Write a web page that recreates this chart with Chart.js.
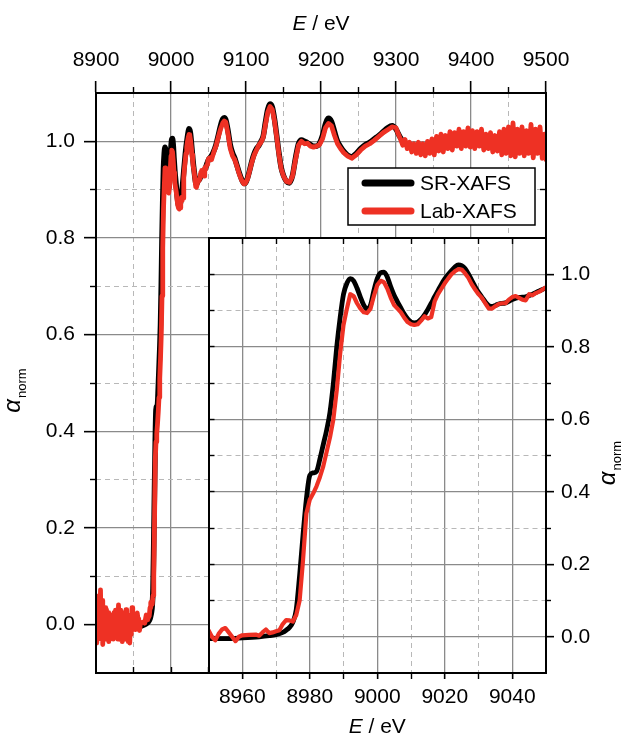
<!DOCTYPE html>
<html>
<head>
<meta charset="utf-8">
<title>SR-XAFS vs Lab-XAFS</title>
<script src="https://cdn.jsdelivr.net/npm/chart.js@4.4.1/dist/chart.umd.min.js"></script>
<style>
    html, body { margin: 0; padding: 0; background: #fff; }
    #wrap { position: relative; width: 630px; height: 737px; }
    #wrap canvas { position: absolute; left: 0; top: 0; }
</style>
</head>
<body>
<div id="wrap">
    <canvas id="mainChart" width="630" height="737"></canvas>
    <canvas id="insetChart" width="630" height="737"></canvas>
</div>
<script>
// ---- data ----
// SR-XAFS (black)
const srEnergy = [8940, 8945, 8950, 8955, 8960, 8965, 8968, 8970, 8972, 8973, 8974, 8975, 8976, 8977, 8978, 8979,
    8980, 8981, 8982, 8983, 8984, 8985, 8986, 8987, 8988, 8989, 8990, 8991, 8992, 8993, 8994, 8995, 8996, 8997, 8998, 8999,
    9000, 9001, 9002, 9003, 9004, 9005, 9006, 9007, 9008, 9009, 9010, 9011, 9012, 9013, 9014, 9015, 9016, 9017, 9018, 9019,
    9020, 9021, 9022, 9023, 9024, 9025, 9026, 9027, 9028, 9029, 9030, 9031, 9032, 9033, 9034, 9035, 9036, 9038,
    9040, 9042, 9044, 9046, 9048, 9050, 9053, 9056, 9060, 9063, 9066, 9069, 9071, 9073, 9076, 9079, 9082, 9085, 9088,
    9091, 9094, 9097, 9099, 9102, 9105, 9108, 9111, 9114, 9117, 9120, 9123, 9126, 9129, 9132, 9135, 9138, 9141, 9144,
    9147, 9150, 9154, 9158, 9162, 9166, 9170, 9174, 9178, 9182, 9186, 9190, 9194, 9198, 9202, 9206, 9210, 9214, 9218,
    9222, 9226, 9230, 9235, 9241, 9247, 9253, 9259, 9265, 9271, 9277, 9283, 9289, 9295, 9300, 9305, 9310, 9320, 9330,
    9340, 9350, 9360, 9370, 9380, 9390, 9400, 9410, 9420, 9430, 9440, 9450, 9460, 9470, 9480, 9490, 9500];
const srMu = [0.000, -0.003, -0.005, -0.005, -0.003, 0.000, 0.003, 0.006, 0.012, 0.018, 0.026, 0.040, 0.075, 0.170, 0.280, 0.380,
    0.445, 0.452, 0.456, 0.490, 0.530, 0.570, 0.620, 0.700, 0.800, 0.880, 0.945, 0.975, 0.988, 0.982, 0.962, 0.937, 0.915, 0.904, 0.915, 0.955,
    0.988, 1.004, 1.006, 0.992, 0.965, 0.942, 0.924, 0.907, 0.890, 0.877, 0.868, 0.866, 0.868, 0.876, 0.888, 0.903, 0.920, 0.938, 0.955, 0.972,
    0.987, 0.999, 1.010, 1.020, 1.026, 1.024, 1.016, 1.001, 0.983, 0.966, 0.950, 0.937, 0.924, 0.914, 0.911, 0.914, 0.918, 0.921,
    0.930, 0.936, 0.938, 0.945, 0.954, 0.962, 0.968, 0.976, 0.993, 1.012, 1.032, 1.046, 1.049, 1.045, 1.022, 0.993, 0.976, 0.965, 0.950,
    0.935, 0.922, 0.913, 0.913, 0.924, 0.941, 0.960, 0.975, 0.985, 0.991, 1.000, 1.011, 1.040, 1.066, 1.077, 1.071, 1.046, 1.011, 0.975,
    0.945, 0.929, 0.917, 0.914, 0.929, 0.965, 0.995, 1.003, 1.000, 0.997, 0.993, 0.990, 0.990, 0.996, 1.012, 1.036, 1.048, 1.041, 1.020,
    1.000, 0.989, 0.980, 0.972, 0.968, 0.975, 0.985, 0.993, 0.998, 1.005, 1.012, 1.020, 1.028, 1.032, 1.025, 1.010, 0.998, 0.990, 0.985,
    0.983, 0.985, 0.990, 0.995, 1.000, 1.005, 1.008, 1.005, 1.000, 0.998, 0.998, 1.000, 1.000, 1.000, 0.998, 0.995, 0.995];

// Lab-XAFS (red)
const labEnergy = [8900, 8901, 8902, 8903, 8904, 8905, 8906, 8907, 8908, 8909, 8910, 8911, 8912, 8913, 8914, 8915, 8916, 8917,
    8918, 8919, 8920, 8921, 8922, 8923, 8924, 8925, 8926, 8927, 8928, 8929, 8930, 8931, 8932, 8933, 8934, 8935, 8936, 8937,
    8938, 8939, 8940, 8941, 8942, 8943, 8944, 8945, 8946, 8947, 8948, 8949, 8950, 8951, 8952, 8953, 8954, 8955, 8956, 8957,
    8958, 8959, 8960, 8962, 8964, 8965, 8966, 8967, 8968, 8969, 8970, 8971, 8972, 8973, 8974, 8975, 8976, 8977, 8978, 8979,
    8980, 8981, 8982, 8983, 8984, 8985, 8986, 8987, 8988, 8989, 8990, 8991, 8992, 8993, 8994, 8995, 8996, 8997, 8998, 8999,
    9000, 9001, 9002, 9003, 9004, 9005, 9006, 9007, 9008, 9009, 9010, 9011, 9012, 9013, 9014, 9015, 9016, 9017, 9018, 9019,
    9020, 9021, 9022, 9023, 9024, 9025, 9026, 9027, 9028, 9029, 9030, 9031, 9032, 9033, 9034, 9035, 9036, 9037, 9038, 9039,
    9040, 9041, 9042, 9043, 9044, 9045, 9046, 9047, 9048, 9049, 9050, 9052, 9054, 9056, 9058, 9060, 9063, 9066, 9069, 9071,
    9073, 9076, 9079, 9082, 9085, 9088, 9091, 9094, 9097, 9099, 9102, 9105, 9108, 9111, 9114, 9117, 9120, 9123, 9126, 9129,
    9132, 9135, 9138, 9141, 9144, 9147, 9150, 9154, 9158, 9162, 9166, 9170, 9174, 9178, 9182, 9186, 9190, 9194, 9198, 9202,
    9206, 9210, 9214, 9218, 9222, 9226, 9230, 9235, 9241, 9247, 9253, 9259, 9265, 9271, 9277, 9283, 9289, 9295,
    9300, 9303, 9306, 9309, 9312, 9315, 9318, 9321, 9324, 9327, 9330, 9333, 9336, 9339, 9342, 9345, 9348, 9351, 9354, 9357,
    9360, 9363, 9366, 9369, 9372, 9375, 9378, 9381, 9384, 9387, 9390, 9393, 9396, 9399, 9402, 9405, 9408, 9411, 9414, 9417,
    9420, 9423, 9426, 9429, 9432, 9435, 9438, 9441, 9444, 9447, 9450, 9453, 9456, 9459, 9462, 9465, 9468, 9471, 9474, 9477,
    9480, 9483, 9486, 9489, 9492, 9495, 9498, 9500];
const labMu = [0.030, -0.038, 0.045, -0.020, 0.060, 0.000, 0.072, -0.030, 0.050, -0.041, 0.020, -0.010, 0.035, -0.030, 0.031, -0.015, 0.025, -0.035,
    0.010, -0.024, 0.020, -0.020, 0.015, -0.030, 0.025, -0.010, 0.030, -0.025, 0.020, -0.030, 0.041, -0.015, 0.030, -0.031, 0.010, -0.035, 0.020, -0.020,
    0.025, -0.030, 0.031, -0.020, 0.015, -0.035, 0.010, -0.038, 0.020, -0.020, 0.035, -0.010, 0.018, 0.000, -0.010, 0.008, 0.020, 0.024, 0.012, 0.000,
    -0.012, 0.000, 0.004, 0.005, 0.006, 0.003, 0.012, 0.020, 0.010, 0.012, 0.015, 0.018, 0.035, 0.046, 0.045, 0.042, 0.060, 0.100, 0.210, 0.340,
    0.378, 0.395, 0.415, 0.440, 0.470, 0.510, 0.550, 0.600, 0.680, 0.780, 0.860, 0.905, 0.945, 0.940, 0.920, 0.905, 0.895, 0.893, 0.905, 0.940,
    0.970, 0.982, 0.978, 0.960, 0.935, 0.915, 0.905, 0.895, 0.880, 0.868, 0.862, 0.860, 0.862, 0.872, 0.884, 0.878, 0.882, 0.925, 0.945, 0.960,
    0.975, 0.988, 1.000, 1.008, 1.014, 1.013, 1.003, 0.990, 0.972, 0.958, 0.945, 0.935, 0.920, 0.906, 0.905, 0.912, 0.918, 0.920, 0.920, 0.930,
    0.937, 0.940, 0.935, 0.930, 0.928, 0.945, 0.942, 0.948, 0.952, 0.958, 0.964, 0.966, 0.962, 0.972, 0.982, 0.990, 1.008, 1.025, 1.038, 1.042,
    1.040, 1.015, 0.985, 0.970, 0.962, 0.948, 0.932, 0.920, 0.912, 0.913, 0.922, 0.940, 0.958, 0.972, 0.982, 0.992, 0.998, 1.008, 1.035, 1.060,
    1.072, 1.066, 1.042, 1.008, 0.972, 0.943, 0.928, 0.917, 0.915, 0.928, 0.962, 0.992, 1.000, 0.995, 0.996, 0.990, 0.988, 0.990, 0.993, 1.005,
    1.028, 1.037, 1.032, 1.012, 0.995, 0.985, 0.977, 0.970, 0.965, 0.972, 0.982, 0.990, 0.995, 1.002, 1.010, 1.018, 1.024, 1.030,
    1.028, 1.015, 1.005, 0.992, 1.004, 0.985, 0.998, 0.978, 0.995, 0.975, 0.998, 0.972, 0.995, 0.970, 1.000, 0.975, 1.005, 0.972, 1.010, 0.980,
    1.015, 0.978, 1.012, 0.985, 1.020, 0.982, 1.018, 0.990, 1.025, 0.985, 1.020, 0.990, 1.028, 0.988, 1.022, 0.985, 1.020, 0.990, 1.025, 0.982,
    1.015, 0.985, 1.018, 0.978, 1.012, 0.980, 1.020, 0.972, 1.025, 0.975, 1.030, 0.970, 1.038, 0.968, 1.025, 0.975, 1.030, 0.970, 1.022, 0.975,
    1.035, 0.966, 1.025, 0.975, 1.030, 0.965, 1.015, 0.962];

// ---- axis ticks ----
const mainXTicks = [8900, 9000, 9100, 9200, 9300, 9400, 9500];
const mainXMinor = [8950, 9050, 9150, 9250, 9350, 9450];
const mainXMirror = [8950, 9000, 9050, 9100, 9150, 9200, 9250, 9300, 9350, 9400, 9450];
const yTicks = [0.0, 0.2, 0.4, 0.6, 0.8, 1.0];
const yMinor = [0.1, 0.3, 0.5, 0.7, 0.9];
const yMirror = [0.0, 0.1, 0.2, 0.3, 0.4, 0.5, 0.6, 0.7, 0.8, 0.9, 1.0];
const insetXTicks = [8960, 8980, 9000, 9020, 9040];
const insetXMinor = [8970, 8990, 9010, 9030];
const insetXMirror = [8960, 8970, 8980, 8990, 9000, 9010, 9020, 9030, 9040];

const FONT = "'Liberation Sans', Arial, sans-serif";
const GRID_MAJOR = '#8a8a8a';
const GRID_MINOR = '#b8b8b8';
const RED = '#ee3124';

function fixedTicks(values) {
    return function (scale) { scale.ticks = values.map(v => ({ value: v })); };
}
function fixedSize(size) {
    return function (scale) {
        if (scale.isHorizontal()) scale.height = size; else scale.width = size;
    };
}

// labelled axis with solid major grid
function majorAxis(axis, position, min, max, ticks, size, tickLength, padding, fmt) {
    return {
        type: 'linear', axis: axis, position: position, min: min, max: max, weight: 1,
        afterBuildTicks: fixedTicks(ticks),
        afterFit: fixedSize(size),
        ticks: { color: '#000', padding: padding, font: { family: FONT, size: 21 }, callback: fmt },
        grid: { color: GRID_MAJOR, lineWidth: 1.3, tickColor: '#000', tickWidth: 1.6, tickLength: tickLength, tickBorderDash: [] },
        border: { display: true, color: '#000', width: 2, z: 1 }
    };
}
// dashed minor grid, no labels
function minorAxis(axis, position, min, max, ticks, tickLength) {
    return {
        type: 'linear', axis: axis, position: position, min: min, max: max, weight: 0,
        afterBuildTicks: fixedTicks(ticks),
        afterFit: fixedSize(0),
        ticks: { display: false },
        grid: { color: GRID_MINOR, lineWidth: 1, borderDash: [5, 4], tickColor: '#000', tickWidth: 1.4, tickLength: tickLength, tickBorderDash: [] },
        border: { display: false, dash: [5, 4] }
    };
}
// frame side with inward ticks only
function mirrorAxis(axis, position, min, max, ticks) {
    return {
        type: 'linear', axis: axis, position: position, min: min, max: max,
        afterBuildTicks: fixedTicks(ticks),
        afterFit: fixedSize(0),
        ticks: { display: false },
        grid: { drawOnChartArea: false, tickColor: '#000', tickWidth: 1.4, tickLength: -6, tickBorderDash: [] },
        border: { display: true, color: '#000', width: 2, z: 1 }
    };
}

function toPoints(xs, ys) {
    return xs.map((x, i) => ({ x: x, y: ys[i] }));
}

function drawEnergyTitle(ctx, cx, baseline) {
    const italic = 'italic 21px ' + FONT;
    const plain = '21px ' + FONT;
    ctx.font = italic;
    const w1 = ctx.measureText('E').width;
    ctx.font = plain;
    const w2 = ctx.measureText(' / eV').width;
    const x = cx - (w1 + w2) / 2;
    ctx.textAlign = 'left';
    ctx.textBaseline = 'alphabetic';
    ctx.font = italic;
    ctx.fillText('E', x, baseline);
    ctx.font = plain;
    ctx.fillText(' / eV', x + w1, baseline);
}

function drawAlphaTitle(ctx, x, cy) {
    ctx.save();
    ctx.translate(x, cy);
    ctx.rotate(-Math.PI / 2);
    const big = 'italic 24px ' + FONT;
    const small = '13px ' + FONT;
    ctx.font = big;
    const w1 = ctx.measureText('α').width;
    ctx.font = small;
    const w2 = ctx.measureText('norm').width;
    const sx = -(w1 + w2) / 2;
    ctx.textAlign = 'left';
    ctx.textBaseline = 'alphabetic';
    ctx.font = big;
    ctx.fillText('α', sx, 0);
    ctx.font = small;
    ctx.fillText('norm', sx + w1 + 1, 6);
    ctx.restore();
}

// axis titles, position given in plugin options
const axisTitles = {
    id: 'axisTitles',
    afterDraw(chart, args, opts) {
        const ctx = chart.ctx;
        const area = chart.chartArea;
        ctx.save();
        ctx.fillStyle = '#000';
        drawEnergyTitle(ctx, (area.left + area.right) / 2, opts.energyBaseline);
        drawAlphaTitle(ctx, opts.alphaX, (area.top + area.bottom) / 2 + 8);
        ctx.restore();
    }
};

// boxed legend inside the upper right of the main plot
const legendBox = {
    id: 'legendBox',
    afterDraw(chart) {
        const ctx = chart.ctx;
        const area = chart.chartArea;
        const w = 187, h = 57;
        const x0 = area.right - 11 - w;
        const y0 = area.top + 75;
        ctx.save();
        ctx.fillStyle = '#fff';
        ctx.fillRect(x0, y0, w, h);
        ctx.lineWidth = 1.5;
        ctx.strokeStyle = '#000';
        ctx.strokeRect(x0, y0, w, h);
        chart.data.datasets.forEach((ds, i) => {
            const y = y0 + 15 + i * 28;
            ctx.strokeStyle = ds.borderColor;
            ctx.lineWidth = 7;
            ctx.lineCap = 'round';
            ctx.beginPath();
            ctx.moveTo(x0 + 17, y);
            ctx.lineTo(x0 + 63, y);
            ctx.stroke();
            ctx.fillStyle = '#000';
            ctx.font = '21px ' + FONT;
            ctx.textAlign = 'left';
            ctx.textBaseline = 'middle';
            ctx.fillText(ds.label, x0 + 72, y + 1);
        });
        ctx.restore();
    }
};

// white plot area for the inset
const whiteArea = {
    id: 'whiteArea',
    beforeDraw(chart) {
        const a = chart.chartArea;
        chart.ctx.save();
        chart.ctx.fillStyle = '#fff';
        chart.ctx.fillRect(a.left, a.top, a.right - a.left, a.bottom - a.top);
        chart.ctx.restore();
    }
};

function makeDatasets(srWidth, labWidth) {
    return [{
        label: 'SR-XAFS',
        data: toPoints(srEnergy, srMu),
        borderColor: '#000',
        borderWidth: srWidth,
        pointRadius: 0,
        cubicInterpolationMode: 'monotone',
        borderJoinStyle: 'round',
        borderCapStyle: 'round',
        clip: 0,
        order: 2
    }, {
        label: 'Lab-XAFS',
        data: toPoints(labEnergy, labMu),
        borderColor: RED,
        borderWidth: labWidth,
        pointRadius: 0,
        tension: 0,
        borderJoinStyle: 'round',
        borderCapStyle: 'round',
        clip: 0,
        order: 1
    }];
}

const fmtY = v => v.toFixed(1);
const fmtX = v => String(v);

const mainChart = new Chart(document.getElementById('mainChart'), {
    type: 'line',
    data: { datasets: makeDatasets(5.5, 4.8) },
    options: {
        responsive: false,
        animation: false,
        devicePixelRatio: 1,
        events: [],
        layout: { padding: { left: 0, top: 0, right: 84, bottom: 64 }, autoPadding: false },
        plugins: {
            legend: { display: false },
            tooltip: { enabled: false },
            axisTitles: { energyBaseline: 30, alphaX: 20 }
        },
        scales: {
            x: majorAxis('x', 'top', 8900, 9500, mainXTicks, 93, 12, 8, fmtX),
            xMinor: minorAxis('x', 'top', 8900, 9500, mainXMinor, 6),
            xMirror: mirrorAxis('x', 'bottom', 8900, 9500, mainXMirror),
            y: majorAxis('y', 'left', -0.1, 1.1, yTicks, 96, 12, 9, fmtY),
            yMinor: minorAxis('y', 'left', -0.1, 1.1, yMinor, 6),
            yMirror: mirrorAxis('y', 'right', -0.1, 1.1, yMirror)
        }
    },
    plugins: [axisTitles, legendBox]
});

// inset sits over the main plot region 9050-9500 eV, -0.1..0.8
const mx = mainChart.scales.x, my = mainChart.scales.y;
const insetLeft = mx.getPixelForValue(9050);
const insetTop = my.getPixelForValue(0.8);
const rightSpace = 630 - mainChart.chartArea.right;
const bottomSpace = 737 - mainChart.chartArea.bottom;

const insetChart = new Chart(document.getElementById('insetChart'), {
    type: 'line',
    data: { datasets: makeDatasets(4.8, 4.2) },
    options: {
        responsive: false,
        animation: false,
        devicePixelRatio: 1,
        events: [],
        layout: { padding: { left: insetLeft, top: insetTop, right: 0, bottom: 0 }, autoPadding: false },
        plugins: {
            legend: { display: false },
            tooltip: { enabled: false },
            axisTitles: { energyBaseline: 733, alphaX: 615 }
        },
        scales: {
            x: majorAxis('x', 'bottom', 8950, 9050, insetXTicks, bottomSpace, 6, 6, fmtX),
            xMinor: minorAxis('x', 'bottom', 8950, 9050, insetXMinor, 6),
            xMirror: mirrorAxis('x', 'top', 8950, 9050, insetXMirror),
            y: majorAxis('y', 'right', -0.1, 1.1, yTicks, rightSpace, 8, 7, fmtY),
            yMinor: minorAxis('y', 'right', -0.1, 1.1, yMinor, 5),
            yMirror: mirrorAxis('y', 'left', -0.1, 1.1, yMirror)
        }
    },
    plugins: [whiteArea, axisTitles]
});
</script>
</body>
</html>
